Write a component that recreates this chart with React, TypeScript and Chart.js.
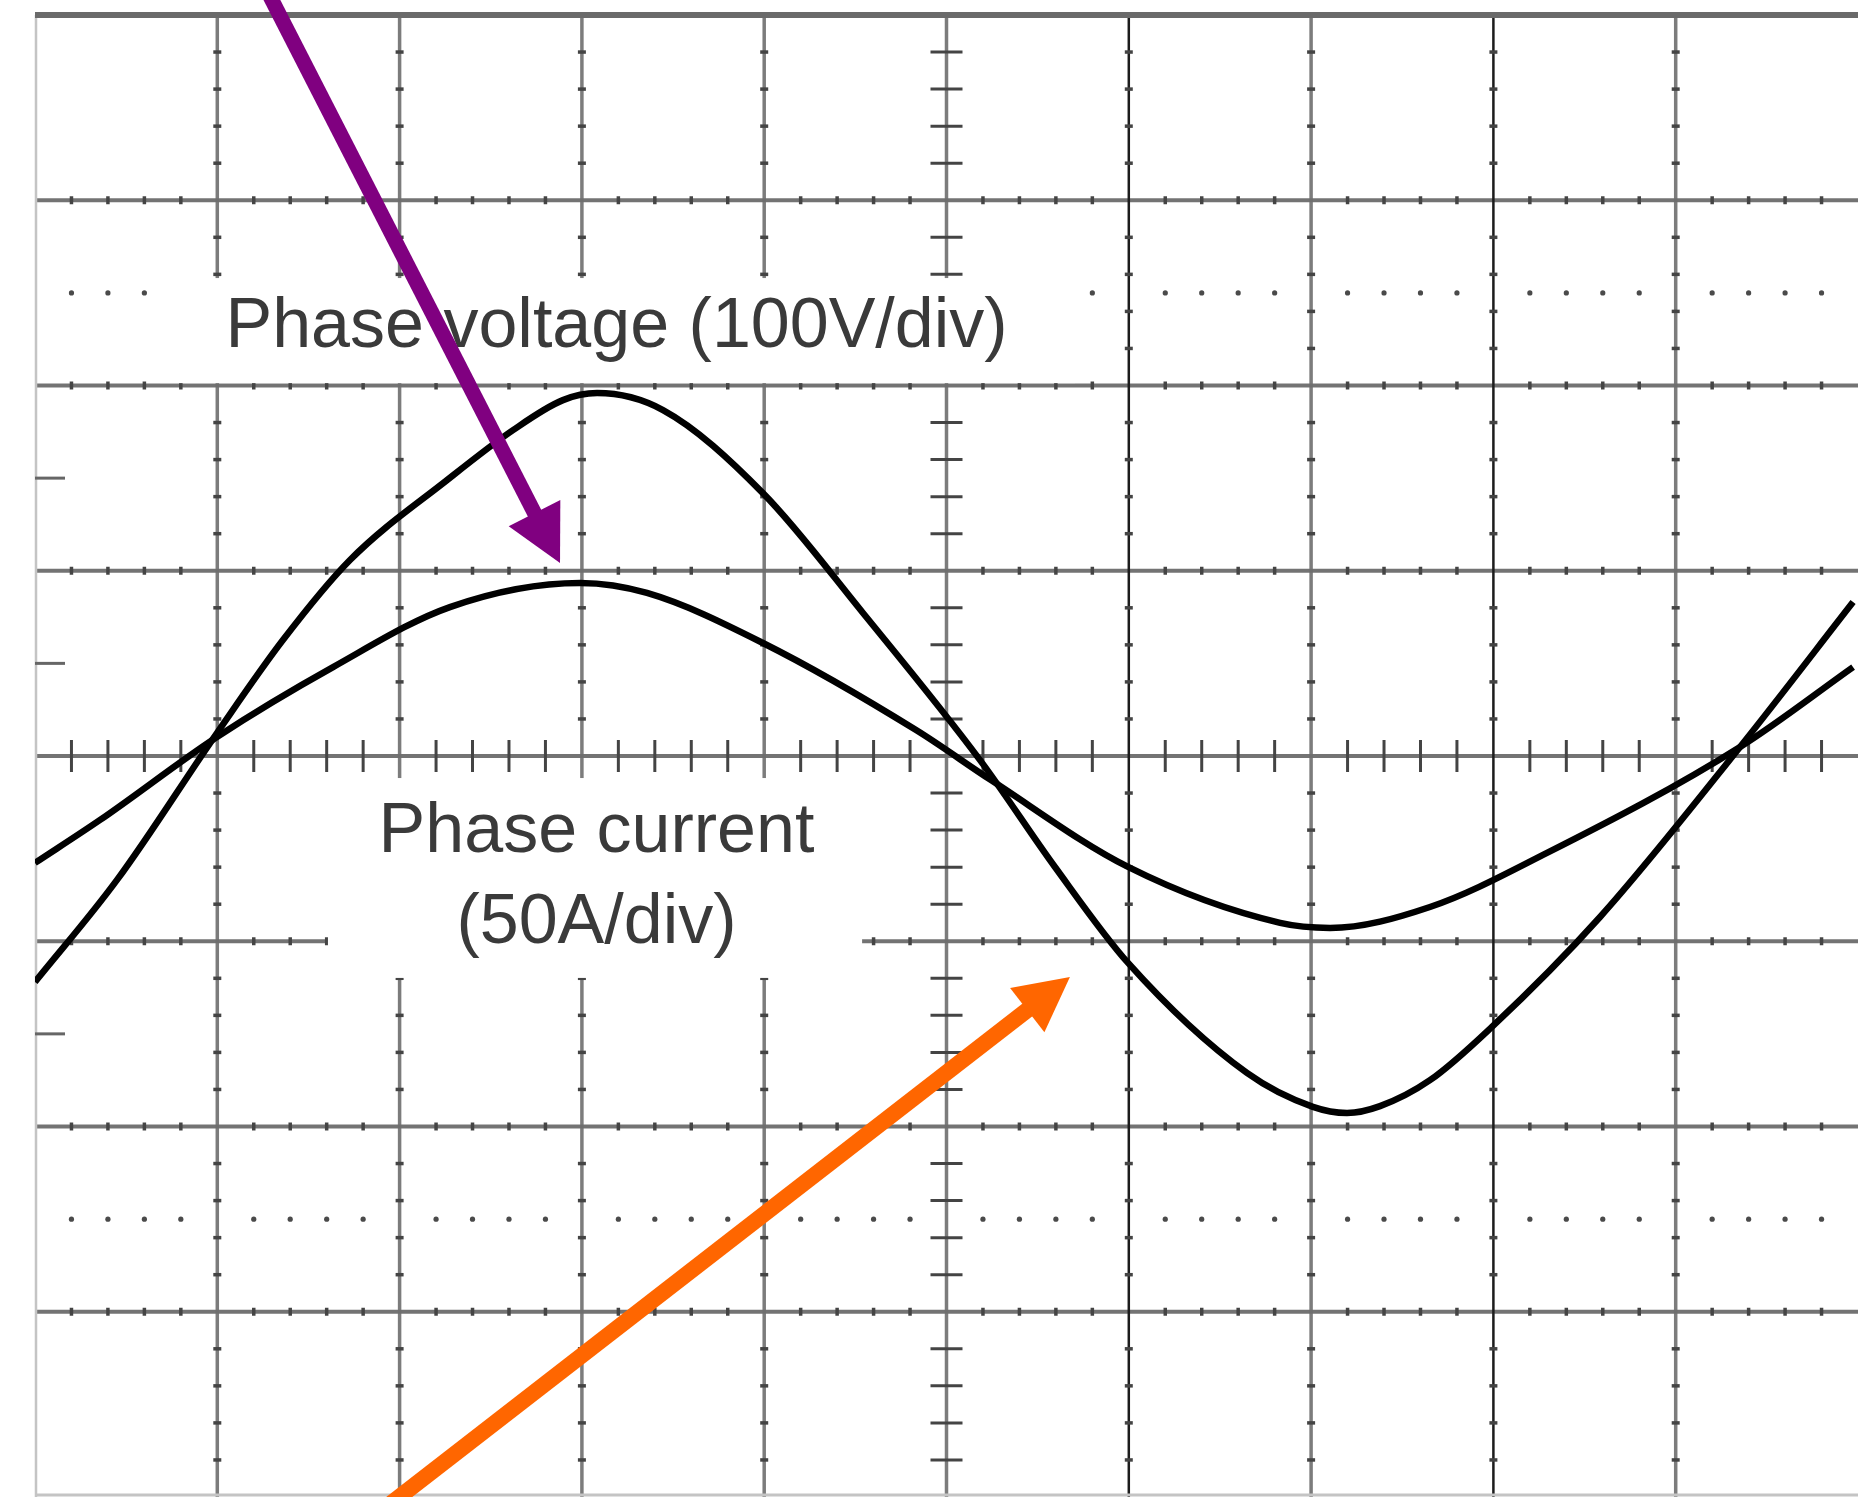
import React, { useEffect, useRef } from "react";
import { Chart, registerables } from "chart.js";

Chart.register(...registerables);

// Screen divisions: 10 horizontal (0..10), 8 vertical (-4..4, 0 = centre line)
const currentX = [0, 0.45, 0.998, 1.36, 1.728, 2.26, 2.622, 2.896, 3.083, 3.445, 3.993, 4.542, 5.184, 5.595, 5.996, 6.648, 7.01, 7.197, 7.378, 7.652, 7.992, 8.585, 9.353, 9.973];
const currentY = [-1.22, -0.669, 0.124, 0.626, 1.058, 1.489, 1.759, 1.921, 1.959, 1.867, 1.419, 0.772, -0.022, -0.599, -1.117, -1.711, -1.894, -1.927, -1.89, -1.75, -1.462, -0.869, 0.049, 0.831];

const voltageX = [0, 0.357, 0.998, 1.635, 2.276, 2.99, 3.357, 3.993, 4.833, 5.244, 5.996, 6.83, 7.104, 7.652, 8.294, 9.353, 9.973];
const voltageY = [-0.577, -0.345, 0.103, 0.48, 0.804, 0.934, 0.88, 0.61, 0.14, -0.13, -0.599, -0.901, -0.928, -0.815, -0.523, 0.049, 0.48];

const xDivisions = [0, 1, 2, 3, 4, 5, 6, 7, 8, 9, 10];
const yDivisions = [-4, -3, -2, -1, 0, 1, 2, 3, 4];
const darkVerticals = [6, 8];
const dottedRows = [2.5, -2.5];
const edgeMarks = [1.5, 0.5, -1.5];

const voltageLabel = "Phase voltage (100V/div)";
const voltageLabelPos = [3.19, 2.207];
const voltageBox = [0.686, 5.705, 2.58, 2.013];
const currentLabelLines = ["Phase current", "(50A/div)"];
const currentLabelPos = [3.08, -0.518, -1.009];
const currentBox = [1.607, 4.537, -0.119, -1.198];

const purpleArrow = [1.3, 4.08, 2.88, 1.042];
const orangeArrow = [1.998, -4.0, 5.677, -1.193];

function drawArrow(ctx: CanvasRenderingContext2D, x0: number, y0: number, x1: number, y1: number, color: string, width: number, headLen: number, headHalf: number) {
  const dx = x1 - x0, dy = y1 - y0;
  const len = Math.sqrt(dx * dx + dy * dy);
  const ux = dx / len, uy = dy / len;
  const px = -uy, py = ux;
  const bx = x1 - ux * headLen, by = y1 - uy * headLen;
  ctx.save();
  ctx.strokeStyle = color;
  ctx.fillStyle = color;
  ctx.lineWidth = width;
  ctx.lineCap = "butt";
  ctx.beginPath();
  ctx.moveTo(x0 - ux * 20, y0 - uy * 20);
  ctx.lineTo(bx + ux * 4, by + uy * 4);
  ctx.stroke();
  ctx.beginPath();
  ctx.moveTo(x1, y1);
  ctx.lineTo(bx + px * headHalf, by + py * headHalf);
  ctx.lineTo(bx - px * headHalf, by - py * headHalf);
  ctx.closePath();
  ctx.fill();
  ctx.restore();
}

const scopePlugin = {
  id: "scopeGrid",
  beforeDraw(chart: any) {
    const { ctx, width, height } = chart;
    ctx.save();
    ctx.fillStyle = "#ffffff";
    ctx.fillRect(0, 0, width, height);
    ctx.restore();
  },
  beforeDatasetsDraw(chart: any) {
    const { ctx, scales } = chart;
    const X = (v: number) => scales.x.getPixelForValue(v);
    const Y = (v: number) => scales.y.getPixelForValue(v);
    const left = X(0), right = X(10), top = Y(4), bottom = Y(-4);
    ctx.save();

    // horizontal major lines
    yDivisions.forEach((v) => {
      if (v === 4 || v === -4) return;
      ctx.strokeStyle = "rgba(100,100,100,0.9)";
      ctx.lineWidth = 4;
      ctx.beginPath();
      ctx.moveTo(left, Y(v));
      ctx.lineTo(right, Y(v));
      ctx.stroke();
    });
    // vertical major lines
    xDivisions.forEach((v) => {
      if (v === 0 || v === 10) return;
      const dark = darkVerticals.includes(v);
      ctx.strokeStyle = dark ? "#1c1c1c" : "rgba(110,110,110,0.9)";
      ctx.lineWidth = dark ? 2.5 : 3.5;
      ctx.beginPath();
      ctx.moveTo(X(v), top);
      ctx.lineTo(X(v), bottom);
      ctx.stroke();
    });
    // borders
    ctx.strokeStyle = "#c4c4c4";
    ctx.lineWidth = 2.5;
    ctx.beginPath();
    ctx.moveTo(left + 1, top);
    ctx.lineTo(left + 1, bottom);
    ctx.stroke();
    ctx.lineWidth = 3;
    ctx.beginPath();
    ctx.moveTo(left, bottom - 2);
    ctx.lineTo(right, bottom - 2);
    ctx.stroke();
    ctx.strokeStyle = "#6a6a6a";
    ctx.lineWidth = 6;
    ctx.beginPath();
    ctx.moveTo(left, top);
    ctx.lineTo(right, top);
    ctx.stroke();

    // minor ticks
    ctx.strokeStyle = "#444";
    for (let i = 1; i < 50; i++) {
      if (i % 5 === 0) continue;
      const xv = i / 5;
      yDivisions.forEach((v) => {
        if (v === 4 || v === -4) return;
        const yy = Y(v);
        const half = v === 0 ? 16 : 4;
        ctx.lineWidth = v === 0 ? 3 : 3.5;
        ctx.beginPath();
        ctx.moveTo(X(xv), yy - half);
        ctx.lineTo(X(xv), yy + half);
        ctx.stroke();
      });
    }
    for (let j = -19; j < 20; j++) {
      if (j % 5 === 0) continue;
      const yv = j / 5;
      xDivisions.forEach((v) => {
        if (v === 0 || v === 10) return;
        const xx = X(v);
        const half = v === 5 ? 16 : 4;
        ctx.lineWidth = v === 5 ? 3 : 3.5;
        ctx.beginPath();
        ctx.moveTo(xx - half, Y(yv));
        ctx.lineTo(xx + half, Y(yv));
        ctx.stroke();
      });
    }
    // dotted rows
    ctx.fillStyle = "#4a4a4a";
    dottedRows.forEach((r) => {
      for (let i = 1; i < 50; i++) {
        if (i % 5 === 0) continue;
        ctx.beginPath();
        ctx.arc(X(i / 5), Y(r), 2.6, 0, Math.PI * 2);
        ctx.fill();
      }
    });
    // edge marks on left border
    ctx.strokeStyle = "#666";
    ctx.lineWidth = 3;
    edgeMarks.forEach((m) => {
      ctx.beginPath();
      ctx.moveTo(left, Y(m));
      ctx.lineTo(left + 30, Y(m));
      ctx.stroke();
    });

    // label backgrounds
    ctx.fillStyle = "#ffffff";
    [voltageBox, currentBox].forEach((b) => {
      ctx.fillRect(X(b[0]), Y(b[2]), X(b[1]) - X(b[0]), Y(b[3]) - Y(b[2]));
    });

    // labels
    ctx.fillStyle = "#3a3a3a";
    ctx.font = '70px "Liberation Sans", Arial, sans-serif';
    ctx.textAlign = "center";
    ctx.textBaseline = "alphabetic";
    ctx.fillText(voltageLabel, X(voltageLabelPos[0]), Y(voltageLabelPos[1]));
    ctx.fillText(currentLabelLines[0], X(currentLabelPos[0]), Y(currentLabelPos[1]));
    ctx.fillText(currentLabelLines[1], X(currentLabelPos[0]), Y(currentLabelPos[2]));
    ctx.restore();
  },
  afterDraw(chart: any) {
    const { ctx, scales } = chart;
    const X = (v: number) => scales.x.getPixelForValue(v);
    const Y = (v: number) => scales.y.getPixelForValue(v);
    drawArrow(ctx, X(purpleArrow[0]), Y(purpleArrow[1]), X(purpleArrow[2]), Y(purpleArrow[3]), "#800080", 15, 56, 29);
    drawArrow(ctx, X(orangeArrow[0]), Y(orangeArrow[1]), X(orangeArrow[2]), Y(orangeArrow[3]), "#ff6600", 16, 54, 28);
  },
};

export default function App() {
  const ref = useRef<HTMLCanvasElement | null>(null);
  useEffect(() => {
    if (!ref.current) return;
    const chart = new Chart(ref.current, {
      type: "line",
      data: {
        datasets: [
          {
            label: "Phase current",
            data: currentX.map((x, i) => ({ x, y: currentY[i] })),
            borderColor: "#000000",
            borderWidth: 6.5,
            pointRadius: 0,
            fill: false,
            cubicInterpolationMode: "monotone",
          },
          {
            label: "Phase voltage",
            data: voltageX.map((x, i) => ({ x, y: voltageY[i] })),
            borderColor: "#000000",
            borderWidth: 6.5,
            pointRadius: 0,
            fill: false,
            cubicInterpolationMode: "monotone",
          },
        ],
      },
      options: {
        animation: false,
        responsive: false,
        maintainAspectRatio: false,
        events: [],
        layout: { padding: { left: 35, top: 15, right: 0, bottom: 0 } },
        plugins: {
          legend: { display: false },
          tooltip: { enabled: false },
          title: { display: false },
        },
        scales: {
          x: { type: "linear", min: 0, max: 10, display: false },
          y: { type: "linear", min: -4, max: 4, display: false },
        },
      },
      plugins: [scopePlugin],
    } as any);
    return () => chart.destroy();
  }, []);
  return (
    <div style={{ position: "fixed", left: 0, top: 0, width: 1858, height: 1497, background: "#fff" }}>
      <canvas ref={ref} width={1858} height={1497} style={{ display: "block", width: 1858, height: 1497 }} />
    </div>
  );
}
